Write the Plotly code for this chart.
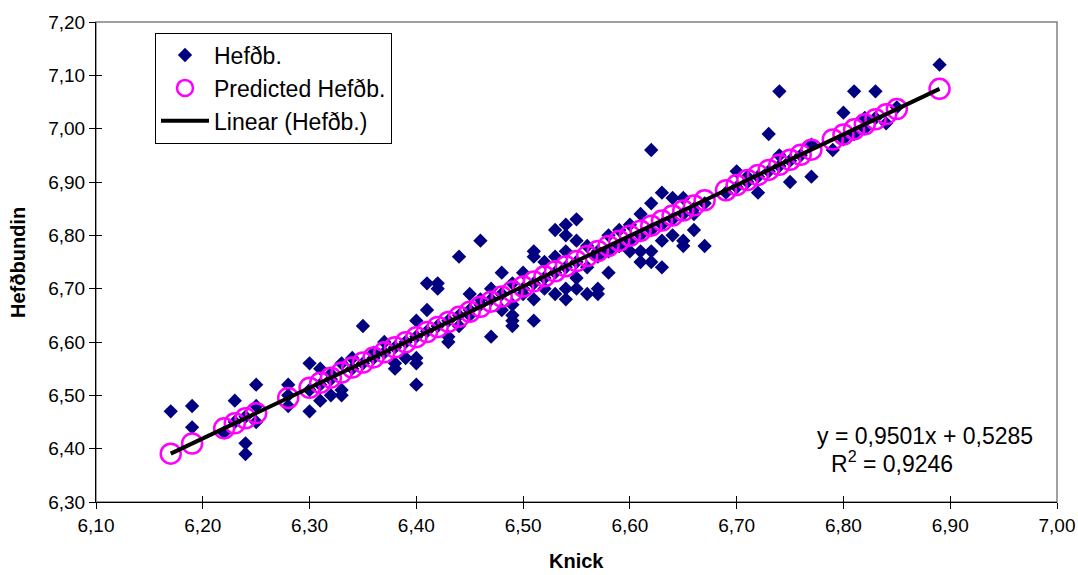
import plotly.graph_objects as go

# ---- data ----
knick = [6.17, 6.19, 6.19, 6.22, 6.23, 6.23, 6.24, 6.24, 6.24, 6.25, 6.25, 6.25,
         6.28, 6.28, 6.28, 6.30, 6.30, 6.30, 6.31, 6.31, 6.31, 6.32, 6.32, 6.32,
         6.33, 6.33, 6.33, 6.34, 6.34, 6.35, 6.35, 6.36, 6.36, 6.37, 6.37, 6.38,
         6.38, 6.38, 6.39, 6.39, 6.40, 6.40, 6.40, 6.40, 6.40, 6.41, 6.41, 6.41,
         6.42, 6.42, 6.42, 6.43, 6.43, 6.43, 6.44, 6.44, 6.44, 6.45, 6.45, 6.45,
         6.46, 6.46, 6.46, 6.47, 6.47, 6.47, 6.48, 6.48, 6.48, 6.49, 6.49, 6.49,
         6.49, 6.49, 6.50, 6.50, 6.50, 6.51, 6.51, 6.51, 6.51, 6.51, 6.52, 6.52,
         6.52, 6.53, 6.53, 6.53, 6.53, 6.54, 6.54, 6.54, 6.54, 6.54, 6.54, 6.55,
         6.55, 6.55, 6.55, 6.55, 6.56, 6.56, 6.56, 6.57, 6.57, 6.57, 6.57, 6.58,
         6.58, 6.58, 6.59, 6.59, 6.60, 6.60, 6.60, 6.61, 6.61, 6.61, 6.61, 6.62,
         6.62, 6.62, 6.62, 6.62, 6.63, 6.63, 6.63, 6.63, 6.64, 6.64, 6.64, 6.65,
         6.65, 6.65, 6.65, 6.66, 6.66, 6.66, 6.67, 6.67, 6.69, 6.70, 6.70, 6.71,
         6.71, 6.72, 6.72, 6.73, 6.73, 6.74, 6.74, 6.74, 6.75, 6.75, 6.76, 6.77,
         6.77, 6.79, 6.80, 6.80, 6.81, 6.81, 6.82, 6.82, 6.83, 6.83, 6.84, 6.85,
         6.89]
hefdb = [6.47, 6.48, 6.44, 6.43, 6.49, 6.45, 6.41, 6.39, 6.46, 6.52, 6.48, 6.45,
         6.52, 6.48, 6.50, 6.47, 6.56, 6.51, 6.49, 6.55, 6.52, 6.50, 6.54, 6.53,
         6.50, 6.51, 6.56, 6.57, 6.55, 6.63, 6.56, 6.57, 6.58, 6.60, 6.58, 6.59,
         6.55, 6.56, 6.57, 6.60, 6.52, 6.56, 6.57, 6.64, 6.61, 6.66, 6.71, 6.62,
         6.71, 6.70, 6.63, 6.60, 6.61, 6.64, 6.76, 6.65, 6.63, 6.69, 6.65, 6.66,
         6.79, 6.68, 6.67, 6.61, 6.70, 6.68, 6.73, 6.66, 6.69, 6.64, 6.63, 6.67,
         6.65, 6.71, 6.73, 6.70, 6.69, 6.77, 6.76, 6.64, 6.68, 6.71, 6.75, 6.72,
         6.70, 6.81, 6.76, 6.69, 6.73, 6.82, 6.80, 6.77, 6.70, 6.68, 6.74, 6.83,
         6.79, 6.72, 6.70, 6.75, 6.78, 6.69, 6.74, 6.77, 6.70, 6.69, 6.76, 6.73,
         6.80, 6.77, 6.81, 6.78, 6.82, 6.79, 6.77, 6.84, 6.77, 6.75, 6.80, 6.96,
         6.86, 6.77, 6.75, 6.81, 6.88, 6.79, 6.74, 6.82, 6.87, 6.80, 6.83, 6.87,
         6.79, 6.78, 6.84, 6.81, 6.84, 6.85, 6.78, 6.86, 6.88, 6.92, 6.89, 6.90,
         6.91, 6.88, 6.91, 6.99, 6.92, 7.07, 6.95, 6.93, 6.90, 6.94, 6.95, 6.91,
         6.97, 6.96, 7.03, 6.98, 7.07, 6.99, 7.02, 7.00, 7.07, 7.02, 7.01, 7.04,
         7.12]

# trendline coefficients as printed on the chart
SLOPE = 0.9501
INTERCEPT = 0.5285
R2_TEXT = "0,9246"

x_ticks = [6.10, 6.20, 6.30, 6.40, 6.50, 6.60, 6.70, 6.80, 6.90, 7.00]
y_ticks = [6.30, 6.40, 6.50, 6.60, 6.70, 6.80, 6.90, 7.00, 7.10, 7.20]

pred_x = sorted(set(knick))
pred_y = [SLOPE * v + INTERCEPT for v in pred_x]
trend_x = [min(knick), max(knick)]
trend_y = [SLOPE * v + INTERCEPT for v in trend_x]

FONT = "Arial, 'Liberation Sans', sans-serif"

fig = go.Figure()
fig.add_trace(go.Scatter(
    x=knick, y=hefdb, mode="markers", name="Hefðb.",
    marker=dict(symbol="diamond", size=11, color="#000080",
                line=dict(width=0))))
fig.add_trace(go.Scatter(
    x=pred_x, y=pred_y, mode="markers", name="Predicted Hefðb.",
    marker=dict(symbol="circle-open", size=20, color="#FF00FF",
                line=dict(width=2.5, color="#FF00FF"))))
fig.add_trace(go.Scatter(
    x=trend_x, y=trend_y, mode="lines", name="Linear (Hefðb.)",
    line=dict(color="black", width=4)))

axis_common = dict(showgrid=False, zeroline=False, ticks="outside", ticklen=6,
                   tickwidth=1, tickcolor="black", showline=True,
                   linecolor="black", linewidth=1, automargin=False,
                   tickfont=dict(family=FONT, size=19, color="black"))

fig.update_layout(
    width=1078, height=575,
    margin=dict(l=96, r=21, t=22, b=73, autoexpand=False),
    paper_bgcolor="white", plot_bgcolor="white",
    separators=", ",
    font=dict(family=FONT, color="black"),
    xaxis=dict(range=[6.10, 7.00], tickvals=x_ticks, tickformat=".2f",
               **axis_common),
    yaxis=dict(range=[6.30, 7.20], tickvals=y_ticks, tickformat=".2f",
               **axis_common),
    xaxis2=dict(range=[6.10, 7.00], tickvals=x_ticks, overlaying="x",
                anchor="y", side="bottom", showgrid=False, zeroline=False,
                showline=False, ticks="inside", ticklen=6, tickcolor="black",
                showticklabels=False, automargin=False),
    yaxis2=dict(range=[6.30, 7.20], tickvals=y_ticks, overlaying="y",
                anchor="x", side="left", showgrid=False, zeroline=False,
                showline=False, ticks="inside", ticklen=6, tickcolor="black",
                showticklabels=False, automargin=False),
    legend=dict(x=0.0614, y=0.978, xanchor="left", yanchor="top",
                bgcolor="white", bordercolor="black", borderwidth=1,
                font=dict(family=FONT, size=23, color="black"),
                itemwidth=48, tracegroupgap=0),
    showlegend=True,
    shapes=[dict(type="rect", xref="paper", yref="paper", x0=0, y0=0, x1=1, y1=1,
                 line=dict(color="#808080", width=1.5), layer="below")],
    annotations=[
        dict(text="<b>Knick</b>", xref="paper", yref="paper",
             x=0.5, y=-0.1505, xanchor="center", yanchor="bottom",
             showarrow=False, font=dict(family=FONT, size=20, color="black")),
        dict(text="<b>Hefðbundin</b>", xref="paper", yref="paper",
             x=-0.0812, y=0.5, xanchor="center", yanchor="middle", textangle=-90,
             showarrow=False, font=dict(family=FONT, size=20, color="black")),
        dict(text="y = 0,9501x + 0,5285", xref="paper", yref="paper",
             x=0.8627, y=0.138, xanchor="center", yanchor="middle",
             showarrow=False, font=dict(family=FONT, size=23, color="black")),
        dict(text="R<sup>2</sup> = " + R2_TEXT, xref="paper", yref="paper",
             x=0.8288, y=0.084, xanchor="center", yanchor="middle",
             showarrow=False, font=dict(family=FONT, size=23, color="black")),
    ],
)

# invisible trace to activate the overlay axes that draw the inner half of the crossing ticks
fig.add_trace(go.Scatter(x=[6.5], y=[6.7], xaxis="x2", yaxis="y2", mode="markers",
                         marker=dict(opacity=0), showlegend=False, hoverinfo="skip"))

fig.write_html("out.html", config={"displayModeBar": False},
               post_script="document.body.style.margin='0';document.body.style.overflow='hidden';")
